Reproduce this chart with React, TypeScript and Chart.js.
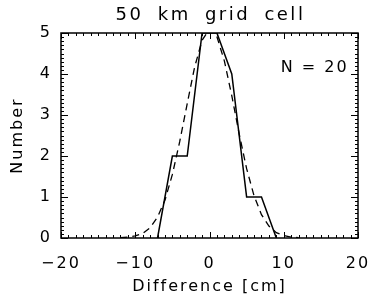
import React, { useEffect, useRef } from "react";
import { Chart, registerables } from "chart.js";

Chart.register(...registerables);

const titleText = "50 km grid cell";
const xTitle = "Difference [cm]";
const yTitle = "Number";
const annotationText = "N = 20";

// histogram (solid line)
const histX = [-7, -5, -3, -1, 1, 3, 5, 7, 9];
const histY = [0, 2, 2, 5, 5, 4, 1, 1, 0];

// fitted curve (dashed line)
const fitX = [-12, -11, -10, -9, -8, -7, -6, -5, -4, -3, -2, -1, 0, 1, 2, 3, 4, 5, 6, 7, 8, 9, 10, 11, 12];
const fitY = [0.01, 0.02, 0.05, 0.11, 0.25, 0.51, 0.92, 1.55, 2.36, 3.28, 4.17, 4.82, 5.1, 4.91, 4.32, 3.47, 2.54, 1.69, 1.03, 0.57, 0.29, 0.13, 0.06, 0.02, 0.01];

const xTicks = [-20, -10, 0, 10, 20];
const yTicks = [0, 1, 2, 3, 4, 5];

const FONT = "'DejaVu Sans', Verdana, sans-serif";

function setSpacing(ctx: any, ls: string, ws: string) {
  try {
    ctx.letterSpacing = ls;
    ctx.wordSpacing = ws;
  } catch (e) {
    /* ignore */
  }
}

const framePlugin = {
  id: "idlFrame",
  beforeUpdate(chart: any) {
    setSpacing(chart.ctx, "2px", "0px");
  },
  beforeDraw(chart: any) {
    setSpacing(chart.ctx, "2px", "0px");
  },
  afterDraw(chart: any) {
    const { ctx, chartArea: a, scales } = chart;
    const xs = scales.x;
    const ys = scales.y;
    ctx.save();
    ctx.strokeStyle = "#000";
    ctx.lineWidth = 1.5;
    ctx.strokeRect(a.left, a.top, a.right - a.left, a.bottom - a.top);
    ctx.lineWidth = 1;
    ctx.beginPath();
    for (let v = xs.min; v <= xs.max + 1e-9; v += 1) {
      const px = Math.round(xs.getPixelForValue(v)) + 0.5;
      const major = xTicks.includes(Math.round(v));
      const len = major ? 6 : 3;
      ctx.moveTo(px, a.bottom);
      ctx.lineTo(px, a.bottom - len);
      ctx.moveTo(px, a.top);
      ctx.lineTo(px, a.top + len);
    }
    for (let i = 0; i <= Math.round((ys.max - ys.min) * 10); i++) {
      const v = ys.min + i / 10;
      const py = Math.round(ys.getPixelForValue(v)) + 0.5;
      const major = i % 10 === 0;
      const len = major ? 7 : 3;
      ctx.moveTo(a.left, py);
      ctx.lineTo(a.left + len, py);
      ctx.moveTo(a.right, py);
      ctx.lineTo(a.right - len, py);
    }
    ctx.stroke();
    ctx.fillStyle = "#000";
    // annotation
    setSpacing(ctx, "2px", "0px");
    ctx.font = `16px ${FONT}`;
    ctx.textAlign = "right";
    ctx.textBaseline = "middle";
    ctx.fillText(annotationText, xs.getPixelForValue(18.75), ys.getPixelForValue(4.15));
    // title, centred over the plot area
    setSpacing(ctx, "2.5px", "6px");
    ctx.font = `18px ${FONT}`;
    ctx.textAlign = "center";
    ctx.textBaseline = "alphabetic";
    ctx.fillText(titleText, (a.left + a.right) / 2 + 1, a.top - 13);
    ctx.restore();
  },
};

export default function App() {
  const ref = useRef<HTMLCanvasElement>(null);
  useEffect(() => {
    if (!ref.current) return;
    const chart = new Chart(ref.current, {
      type: "line",
      data: {
        datasets: [
          {
            data: histX.map((x, i) => ({ x, y: histY[i] })),
            borderColor: "#000",
            borderWidth: 1.5,
            pointRadius: 0,
            fill: false,
            tension: 0,
          },
          {
            data: fitX.map((x, i) => ({ x, y: fitY[i] })),
            borderColor: "#000",
            borderWidth: 1.3,
            borderDash: [7, 5],
            pointRadius: 0,
            fill: false,
            tension: 0,
          },
        ],
      },
      options: {
        responsive: false,
        animation: false,
        layout: { padding: { left: 0, right: 10, top: 33, bottom: 0 } },
        plugins: {
          legend: { display: false },
          tooltip: { enabled: false },
          title: { display: false },
        },
        scales: {
          x: {
            type: "linear",
            min: -20,
            max: 20,
            afterBuildTicks: (s: any) => {
              s.ticks = xTicks.map((v) => ({ value: v }));
            },
            afterFit: (s: any) => {
              s.height = 61;
              s.paddingLeft = 0;
              s.paddingRight = 0;
            },
            grid: { display: false, drawTicks: false },
            border: { display: false },
            ticks: {
              color: "#000",
              font: { family: FONT, size: 16 },
              padding: 16,
              maxRotation: 0,
              autoSkip: false,
              callback: (v: any) => String(v).replace("-", "\u2212"),
            },
            title: {
              display: true,
              text: xTitle,
              color: "#000",
              font: { family: FONT, size: 16 },
              padding: { top: 0, bottom: 3 },
            },
          },
          y: {
            type: "linear",
            min: 0,
            max: 5,
            afterBuildTicks: (s: any) => {
              s.ticks = yTicks.map((v) => ({ value: v }));
            },
            afterFit: (s: any) => {
              s.width = 61;
              s.paddingTop = 0;
              s.paddingBottom = 0;
            },
            grid: { display: false, drawTicks: false },
            border: { display: false },
            ticks: {
              color: "#000",
              font: { family: FONT, size: 16 },
              padding: 9,
              autoSkip: false,
            },
            title: {
              display: true,
              text: yTitle,
              color: "#000",
              font: { family: FONT, size: 16 },
              padding: { top: 8, bottom: 0 },
            },
          },
        },
      },
      plugins: [framePlugin],
    });
    return () => chart.destroy();
  }, []);
  return (
    <div style={{ position: "absolute", left: 0, top: 0, width: 368, height: 299, background: "#fff" }}>
      <canvas ref={ref} width={368} height={299} />
    </div>
  );
}
